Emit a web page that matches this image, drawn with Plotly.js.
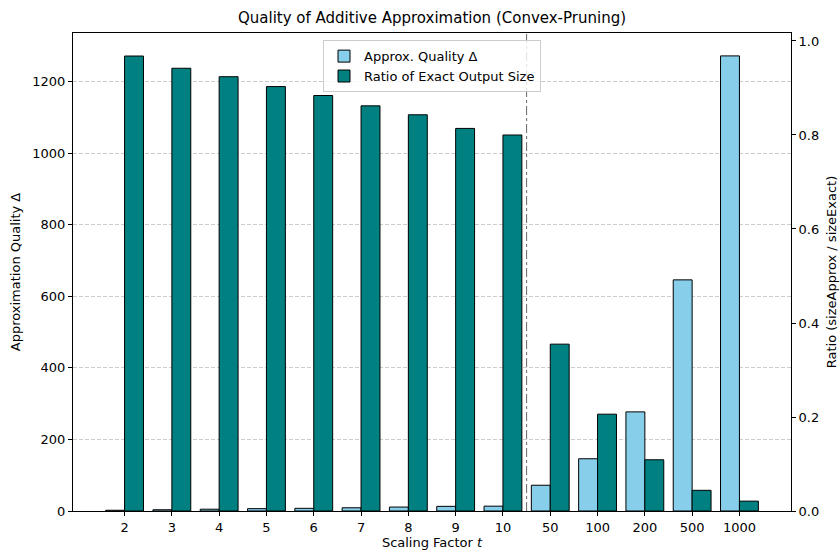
<!DOCTYPE html>
<html>
<head>
<meta charset="utf-8">
<script src="https://cdn.plot.ly/plotly-3.0.1.min.js"></script>
<style>html,body{margin:0;padding:0;background:#fff;}#chart{width:840px;height:552px;}</style>
</head>
<body>
<div id="chart"></div>
<script>
var categories = ["2","3","4","5","6","7","8","9","10","50","100","200","500","1000"];
var approxQuality = [2, 3.5, 5, 6.5, 7.5, 9, 11, 13, 13.5, 72, 146, 277, 646, 1272];
var sizeRatio = [0.968, 0.942, 0.924, 0.903, 0.884, 0.862, 0.843, 0.814, 0.800, 0.355, 0.206, 0.109, 0.044, 0.021];
var seriesNames = ["Approx. Quality Δ", "Ratio of Exact Output Size"];

var font = "DejaVu Sans, sans-serif";

var traces = [
  {type: "bar", x: categories, y: approxQuality, name: seriesNames[0],
   width: 0.4, offset: -0.4, yaxis: "y",
   marker: {color: "#87CEEB", line: {color: "#000", width: 1}}},
  {type: "bar", x: categories, y: sizeRatio, name: seriesNames[1],
   width: 0.4, offset: 0, yaxis: "y2",
   marker: {color: "#008080", line: {color: "#000", width: 1}}}
];

var layout = {
  width: 840, height: 552,
  margin: {l: 73, r: 49, t: 33, b: 41},
  paper_bgcolor: "#fff", plot_bgcolor: "#fff",
  font: {family: font, size: 13, color: "#000"},
  title: {text: "Quality of Additive Approximation (Convex-Pruning)", font: {family: font, size: 15, color: "#000"},
          x: 0.5, xanchor: "center", y: 0.967, yanchor: "middle", xref: "paper"},
  showlegend: true,
  legend: {x: 0.5, xanchor: "center", y: 0.985, yanchor: "top",
           bgcolor: "rgba(255,255,255,0.8)", bordercolor: "#cccccc", borderwidth: 1,
           font: {family: font, size: 13, color: "#000"}, traceorder: "normal"},
  xaxis: {type: "category", range: [-1.09, 14.09], showgrid: false, zeroline: false,
          ticks: "outside", ticklen: 4, tickcolor: "#000", showline: true, linecolor: "#000", linewidth: 1, mirror: true,
          title: {text: "Scaling Factor <i>t</i>", font: {family: font, size: 13}, standoff: 4},
          tickfont: {family: font, size: 13}},
  yaxis: {range: [0, 1336], tickvals: [0,200,400,600,800,1000,1200], showgrid: true,
          gridcolor: "#cccccc", griddash: "4px,2px", gridwidth: 1, zeroline: false,
          ticks: "outside", ticklen: 4, tickcolor: "#000", showline: true, linecolor: "#000", linewidth: 1,
          title: {text: "Approximation Quality Δ", font: {family: font, size: 13}, standoff: 8},
          tickfont: {family: font, size: 13}},
  yaxis2: {overlaying: "y", side: "right", range: [0, 1.017], tickvals: [0,0.2,0.4,0.6,0.8,1.0],
           tickformat: ".1f", showgrid: false, zeroline: false,
           ticks: "outside", ticklen: 4, tickcolor: "#000", showline: true, linecolor: "#000", linewidth: 1,
           title: {text: "Ratio (sizeApprox / sizeExact)", font: {family: font, size: 13}, standoff: 8},
           tickfont: {family: font, size: 13}},
  shapes: [{type: "line", xref: "x", yref: "paper", x0: 8.5, x1: 8.5, y0: 0, y1: 1,
            line: {color: "#666666", width: 1, dash: "dashdot"}}]
};

Plotly.newPlot("chart", traces, layout, {displayModeBar: false, staticPlot: true});
</script>
</body>
</html>
